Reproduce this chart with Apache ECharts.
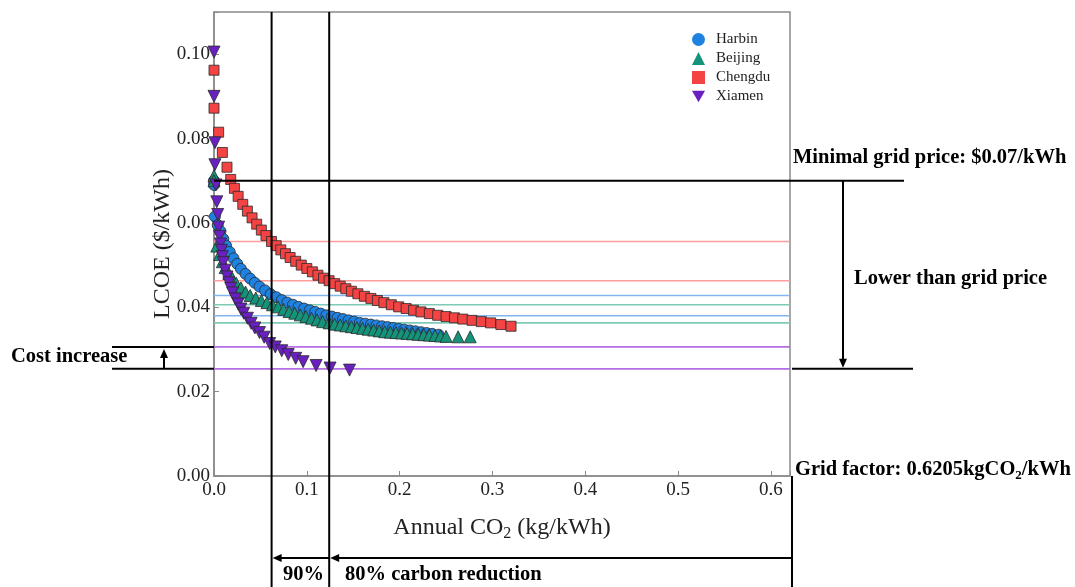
<!DOCTYPE html>
<html><head><meta charset="utf-8">
<script src="https://cdn.jsdelivr.net/npm/echarts@6/dist/echarts.min.js"></script>
<style>html,body{margin:0;padding:0;background:#fff}#c{width:1075px;height:587px}</style>
</head><body><div id="c"></div>
<script>
// ---------- data ----------
const cities = ['Harbin', 'Beijing', 'Chengdu', 'Xiamen'];

const harbinX = [0, 0, 0.001, 0.004, 0.007, 0.010, 0.013, 0.017, 0.021, 0.025, 0.029, 0.034, 0.039, 0.044, 0.049, 0.055, 0.061, 0.067, 0.073, 0.079, 0.085, 0.091, 0.097, 0.103, 0.109, 0.115, 0.121, 0.127, 0.133, 0.139, 0.145, 0.151, 0.157, 0.163, 0.169, 0.175, 0.181, 0.187, 0.193, 0.199, 0.205, 0.211, 0.217, 0.223, 0.229, 0.235, 0.242];
const harbinY = [0.0700, 0.0690, 0.0615, 0.0595, 0.0580, 0.0562, 0.0546, 0.0531, 0.0516, 0.0503, 0.0491, 0.0479, 0.0468, 0.0458, 0.0449, 0.0440, 0.0431, 0.0424, 0.0417, 0.0411, 0.0406, 0.0401, 0.0397, 0.0393, 0.0389, 0.0385, 0.0381, 0.0378, 0.0375, 0.0372, 0.0369, 0.0366, 0.0363, 0.0361, 0.0359, 0.0357, 0.0355, 0.0353, 0.0351, 0.0349, 0.0347, 0.0345, 0.0343, 0.0341, 0.0339, 0.0337, 0.0335];

const beijingX = [0, 0, 0.003, 0.006, 0.009, 0.012, 0.016, 0.020, 0.024, 0.029, 0.034, 0.039, 0.045, 0.051, 0.057, 0.063, 0.069, 0.075, 0.081, 0.087, 0.093, 0.099, 0.105, 0.111, 0.117, 0.124, 0.130, 0.136, 0.142, 0.148, 0.154, 0.160, 0.166, 0.172, 0.178, 0.184, 0.190, 0.196, 0.202, 0.208, 0.214, 0.220, 0.226, 0.232, 0.238, 0.244, 0.250, 0.263, 0.276];
const beijingY = [0.0712, 0.0700, 0.0545, 0.0525, 0.0508, 0.0494, 0.0480, 0.0468, 0.0457, 0.0446, 0.0436, 0.0428, 0.0422, 0.0416, 0.0411, 0.0406, 0.0401, 0.0395, 0.0390, 0.0386, 0.0382, 0.0378, 0.0374, 0.0370, 0.0366, 0.0363, 0.0360, 0.0358, 0.0356, 0.0354, 0.0352, 0.0350, 0.0348, 0.0346, 0.0344, 0.0342, 0.0341, 0.0340, 0.0339, 0.0338, 0.0337, 0.0336, 0.0335, 0.0334, 0.0333, 0.0332, 0.0331, 0.0330, 0.0330];

const chengduX = [0, 0, 0.005, 0.009, 0.014, 0.018, 0.022, 0.026, 0.031, 0.036, 0.041, 0.046, 0.051, 0.056, 0.062, 0.067, 0.072, 0.077, 0.082, 0.088, 0.094, 0.100, 0.106, 0.112, 0.118, 0.124, 0.130, 0.136, 0.142, 0.148, 0.155, 0.162, 0.169, 0.176, 0.183, 0.191, 0.199, 0.207, 0.215, 0.223, 0.232, 0.241, 0.250, 0.259, 0.268, 0.278, 0.288, 0.298, 0.309, 0.320];
const chengduY = [0.0962, 0.0872, 0.0815, 0.0767, 0.0732, 0.0703, 0.0682, 0.0663, 0.0644, 0.0628, 0.0612, 0.0597, 0.0583, 0.0570, 0.0556, 0.0546, 0.0536, 0.0527, 0.0518, 0.0509, 0.0500, 0.0492, 0.0484, 0.0476, 0.0469, 0.0463, 0.0456, 0.0450, 0.0444, 0.0438, 0.0432, 0.0426, 0.0421, 0.0416, 0.0411, 0.0406, 0.0401, 0.0397, 0.0393, 0.0389, 0.0385, 0.0381, 0.0378, 0.0375, 0.0372, 0.0369, 0.0366, 0.0363, 0.0359, 0.0355];

const xiamenX = [0, 0, 0.001, 0.001, 0.002, 0.003, 0.004, 0.005, 0.006, 0.007, 0.008, 0.009, 0.010, 0.012, 0.014, 0.016, 0.018, 0.020, 0.023, 0.026, 0.029, 0.032, 0.036, 0.040, 0.044, 0.049, 0.054, 0.060, 0.066, 0.073, 0.080, 0.088, 0.096, 0.110, 0.125, 0.146];
const xiamenY = [0.1005, 0.0900, 0.0790, 0.0738, 0.0690, 0.0650, 0.0620, 0.0590, 0.0568, 0.0550, 0.0535, 0.0520, 0.0506, 0.0488, 0.0472, 0.0458, 0.0445, 0.0434, 0.0420, 0.0408, 0.0396, 0.0386, 0.0374, 0.0362, 0.0351, 0.0340, 0.0329, 0.0314, 0.0306, 0.0297, 0.0288, 0.0279, 0.0271, 0.0262, 0.0256, 0.0251];

// LCOE at 90% and 80% carbon reduction, per city
const harbinRef = [0.0428, 0.0380];
const beijingRef = [0.0406, 0.0363];
const chengduRef = [0.0556, 0.0463];
const xiamenRef = [0.0306, 0.0254];

const xTickLabels = ['0.0', '0.1', '0.2', '0.3', '0.4', '0.5', '0.6'];
const yTickLabels = ['0.00', '0.02', '0.04', '0.06', '0.08', '0.10'];

const gridFactor = 0.6205;   // kgCO2/kWh
const gridPrice = 0.07;      // $/kWh
const reductions = [0.9, 0.8];

// ---------- chart ----------
const SERIF = '"Liberation Serif", "DejaVu Serif", serif';
const colors = ['#1f82e0', '#14937a', '#f44343', '#6a1fc0'];
const refColors = ['#82b6ee', '#7fcab6', '#ff9c9c', '#b46ee6'];
const symbols = ['circle', 'triangle', 'rect', 'path://M0,0 L10,0 L5,9 Z'];
const sizes = [11, 12, 10, 12];
const xs = [harbinX, beijingX, chengduX, xiamenX];
const ys = [harbinY, beijingY, chengduY, xiamenY];
const refs = [harbinRef, beijingRef, chengduRef, xiamenRef];

const chart = echarts.init(document.getElementById('c'), null, {renderer: 'canvas'});

const series = [];
// reference horizontal lines (drawn first, behind markers)
refs.forEach((arr, i) => {
  arr.forEach((v, j) => {
    series.push({
      name: cities[i] + '-ref' + j, type: 'line', silent: true, z: 1,
      data: [[0, v], [gridFactor, v]],
      showSymbol: false, symbol: 'none',
      lineStyle: {color: refColors[i], width: 1.6, type: 'solid'},
      emphasis: {disabled: true}
    });
  });
});
cities.forEach((name, i) => {
  series.push({
    name: name,
    type: 'scatter',
    data: xs[i].map((x, k) => [x, ys[i][k]]),
    symbol: symbols[i],
    symbolSize: sizes[i],
    itemStyle: {color: colors[i], borderColor: '#2a2a2a', borderWidth: 0.8, opacity: 1},
    z: 3 + i
  });
});

const option = {
  animation: false,
  backgroundColor: '#fff',
  grid: {left: 214, top: 12, right: 285, bottom: 111, show: true, borderColor: '#8a8a8a', borderWidth: 1.5, backgroundColor: 'transparent'},
  legend: {
    data: cities, orient: 'vertical', left: 687, top: 27, itemGap: 4,
    itemWidth: 13, itemHeight: 13,
    itemStyle: {borderWidth: 0},
    textStyle: {fontFamily: SERIF, fontSize: 15, color: '#222', padding: [0, 0, 0, 6]}
  },
  xAxis: {
    type: 'value', min: 0, max: gridFactor, interval: 0.1,
    name: 'Annual CO{s|2} (kg/kWh)', nameLocation: 'middle', nameGap: 37,
    nameTextStyle: {fontFamily: SERIF, fontSize: 24, color: '#222',
      rich: {s: {fontFamily: SERIF, fontSize: 16, color: '#222', padding: [13, 0, 0, 0]}}},
    axisLine: {show: true, lineStyle: {color: '#8a8a8a', width: 1.5}},
    axisTick: {show: true, inside: true, length: 5, lineStyle: {color: '#8a8a8a'}},
    axisLabel: {fontFamily: SERIF, fontSize: 19, color: '#222', margin: 5,
      formatter: v => { const k = Math.round(v * 10); return Math.abs(v * 10 - k) < 1e-6 ? xTickLabels[k] : ''; }},
    splitLine: {show: false}
  },
  yAxis: {
    type: 'value', min: 0, max: 0.11, interval: 0.02,
    name: 'LCOE ($/kWh)', nameLocation: 'middle', nameGap: 39, nameMoveOverlap: false,
    nameTextStyle: {fontFamily: SERIF, fontSize: 24, color: '#222'},
    axisLine: {show: true, lineStyle: {color: '#8a8a8a', width: 1.5}},
    axisTick: {show: true, inside: true, length: 5, lineStyle: {color: '#8a8a8a'}},
    axisLabel: {fontFamily: SERIF, fontSize: 19, color: '#222', margin: 4,
      formatter: v => { const k = Math.round(v / 0.02); return Math.abs(v / 0.02 - k) < 1e-6 ? yTickLabels[k] : ''; }},
    splitLine: {show: false}
  },
  series: series
};
chart.setOption(option);

// ---------- annotations positioned from the axes ----------
const P = (x, y) => chart.convertToPixel({gridIndex: 0}, [x, y]);
const [xL, yTop] = P(0, 0.11);
const [xR, yBot] = P(gridFactor, 0);
const xCut = reductions.map(r => P(gridFactor * (1 - r), 0)[0]);
const yPrice = P(0, gridPrice)[1];
const yCost = xiamenRef.map(v => P(0, v)[1]);

const BLK = {stroke: '#000', lineWidth: 2};
const line = (x1, y1, x2, y2) => ({type: 'line', shape: {x1, y1, x2, y2}, style: BLK, z: 100});
const head = (x, y, dir) => {
  const L = 9, W = 4;
  let pts;
  if (dir === 'left') pts = [[x, y], [x + L, y - W], [x + L, y + W]];
  else if (dir === 'up') pts = [[x, y], [x - W, y + L], [x + W, y + L]];
  else pts = [[x, y], [x - W, y - L], [x + W, y - L]];
  return {type: 'polygon', shape: {points: pts}, style: {fill: '#000'}, z: 101};
};
const BOLD = 'bold 20.5px ' + SERIF;
const txt = (x, y, text, extra) => ({type: 'text', x: x, y: y, z: 102,
  style: Object.assign({text: text, font: BOLD, fill: '#000', verticalAlign: 'middle', align: 'left'}, extra || {})});

const yArrow = 558;
const graphics = [
  line(xCut[0], yTop, xCut[0], 587),
  line(xCut[1], yTop, xCut[1], 587),
  line(xR + 2, yBot, xR + 2, 587),
  line(xL, yPrice, 904, yPrice),
  line(112, yCost[0], xL, yCost[0]),
  line(112, yCost[1], xL, yCost[1]),
  line(164, yCost[1], 164, yCost[0] + 6), head(164, yCost[0] + 2, 'up'),
  line(xR + 2, yCost[1], 913, yCost[1]),
  line(843, yPrice, 843, yCost[1] - 6), head(843, yCost[1] - 1, 'down'),
  line(xCut[1] + 6, yArrow, xR + 2, yArrow), head(xCut[1] + 1, yArrow, 'left'),
  line(xCut[0] + 6, yArrow, xCut[1], yArrow), head(xCut[0] + 1, yArrow, 'left'),
  txt(793, yPrice - 23, 'Minimal grid price: $0.07/kWh'),
  txt(854, 279, 'Lower than grid price'),
  txt(11, (yCost[0] + yCost[1]) / 2 - 1, 'Cost increase'),
  txt(795, yBot - 6, '{a|Grid factor: 0.6205kgCO}{s|2}{a|/kWh}', {
    rich: {a: {font: BOLD, fill: '#000'}, s: {font: 'bold 13px ' + SERIF, fill: '#000', padding: [11, 0, 0, 0]}}}),
  txt(283, 575, '90%'),
  txt(345, 575, '80% carbon reduction')
];
chart.setOption({graphic: graphics});
</script>
</body></html>
